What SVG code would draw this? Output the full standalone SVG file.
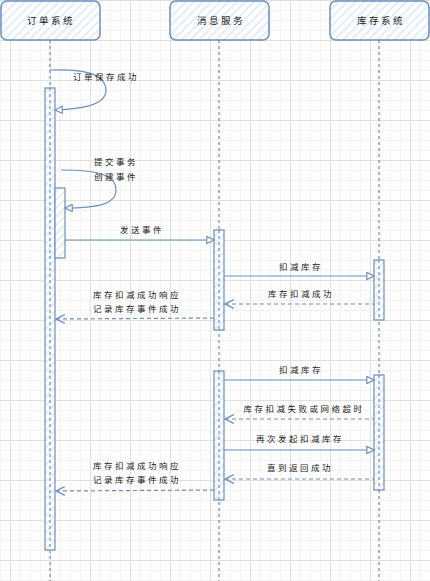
<svg xmlns="http://www.w3.org/2000/svg" width="430" height="581" viewBox="0 0 430 581">
<defs>
<pattern id="minor" width="10" height="10" patternUnits="userSpaceOnUse" x="0" y="0">
<path d="M0 0.5H10M0.5 0V10" stroke="#f3f3f3" stroke-width="1" fill="none"/>
</pattern>
<pattern id="major" width="40" height="40" patternUnits="userSpaceOnUse" x="10" y="0">
<rect width="40" height="40" fill="url(#minor)"/>
<path d="M0 0.5H40M0.5 0V40" stroke="#e0e0e0" stroke-width="1" fill="none"/>
</pattern>
<pattern id="hatch" width="6" height="6" patternUnits="userSpaceOnUse" patternTransform="rotate(45)">
<rect width="6" height="6" fill="#ffffff"/>
<line x1="0" y1="0" x2="0" y2="6" stroke="#dae8fc" stroke-width="3"/>
</pattern>
<marker id="tri" viewBox="0 0 10 10" refX="9" refY="5" markerWidth="9" markerHeight="9" markerUnits="userSpaceOnUse" orient="auto">
<path d="M1 1L9 5L1 9Z" fill="#ffffff" stroke="#6c8ebf" stroke-width="1.3"/>
</marker>
<marker id="vee" viewBox="0 0 10 10" refX="1" refY="5" markerWidth="11" markerHeight="11" markerUnits="userSpaceOnUse" orient="auto">
<path d="M9 1L1 5L9 9" fill="none" stroke="#6c8ebf" stroke-width="1.2"/>
</marker>
</defs>
<style>
.box{fill:url(#hatch);stroke:#6c8ebf;stroke-width:1.5}
.act{fill:url(#hatch);stroke:#6c8ebf;stroke-width:1.2}
.life{stroke:#6c8ebf;stroke-width:1.2;stroke-dasharray:3 3;fill:none}
.msg{stroke:#6c8ebf;stroke-width:1.2;fill:none;marker-end:url(#tri)}
.ret{stroke:#6c8ebf;stroke-width:1.2;fill:none;stroke-dasharray:4 3;marker-start:url(#vee)}
.t{font-family:"Noto Sans CJK SC","Noto Sans",sans-serif;font-size:8.5px;letter-spacing:2.5px;fill:#222;text-anchor:middle}
.h{font-family:"Noto Sans CJK SC","Noto Sans",sans-serif;font-size:9.5px;letter-spacing:2.5px;fill:#222;text-anchor:middle}
</style>
<rect width="430" height="581" fill="#ffffff"/>
<rect width="430" height="581" fill="url(#major)"/>
<g id="p-order">
<rect class="box" x="1" y="1" width="99" height="39" rx="6"/>
<text class="h" x="51" y="24">订单系统</text>
</g>
<g id="p-msg">
<rect class="box" x="170" y="1" width="99" height="39" rx="6"/>
<text class="h" x="221" y="24">消息服务</text>
</g>
<g id="p-stock">
<rect class="box" x="330" y="1" width="99" height="39" rx="6"/>
<text class="h" x="381" y="24">库存系统</text>
</g>
<g id="lifelines">
<line class="life" x1="50" y1="40" x2="50" y2="581"/>
<line class="life" x1="219" y1="40" x2="219" y2="581"/>
<line class="life" x1="379" y1="40" x2="379" y2="581"/>
</g>
<g id="activations">
<rect class="act" x="45" y="88" width="10" height="462"/>
<rect class="act" x="55" y="188" width="10" height="70"/>
<rect class="act" x="214" y="230" width="10" height="100"/>
<rect class="act" x="214" y="371" width="10" height="129"/>
<rect class="act" x="374" y="260" width="10" height="60"/>
<rect class="act" x="374" y="375" width="10" height="115"/>
<line class="life" x1="50" y1="88" x2="50" y2="550"/>
<line class="life" x1="219" y1="230" x2="219" y2="330"/>
<line class="life" x1="219" y1="371" x2="219" y2="500"/>
<line class="life" x1="379" y1="260" x2="379" y2="320"/>
<line class="life" x1="379" y1="375" x2="379" y2="490"/>
</g>
<g id="connectors">
<path class="msg" d="M50 70C80 69 105 72 106 90C106 106 80 109 55 110"/>
<path class="msg" d="M61 170C95 170 116 174 116 190C116 205 95 208 65 208"/>
<path class="msg" d="M65 240L214 240"/>
<path class="msg" d="M224 276L374 276"/>
<path class="ret" d="M225 304L374 304"/>
<path class="ret" d="M56 319L214 318"/>
<path class="msg" d="M224 380L374 380"/>
<path class="ret" d="M225 419L374 419"/>
<path class="msg" d="M224 450L374 450"/>
<path class="ret" d="M225 479L374 479"/>
<path class="ret" d="M56 491L214 490"/>
</g>
<g id="labels">
<text class="t" x="106" y="80">订单保存成功</text>
<text class="t" x="116" y="165">提交事务</text>
<text class="t" x="116" y="180">创建事件</text>
<text class="t" x="142" y="233">发送事件</text>
<text class="t" x="301" y="270">扣减库存</text>
<text class="t" x="301" y="297">库存扣减成功</text>
<text class="t" x="137" y="298">库存扣减成功响应</text>
<text class="t" x="137" y="312">记录库存事件成功</text>
<text class="t" x="301" y="373">扣减库存</text>
<text class="t" x="304" y="412">库存扣减失败或网络超时</text>
<text class="t" x="300" y="442">再次发起扣减库存</text>
<text class="t" x="300" y="471">直到返回成功</text>
<text class="t" x="137" y="469">库存扣减成功响应</text>
<text class="t" x="137" y="483">记录库存事件成功</text>
</g>
</svg>
